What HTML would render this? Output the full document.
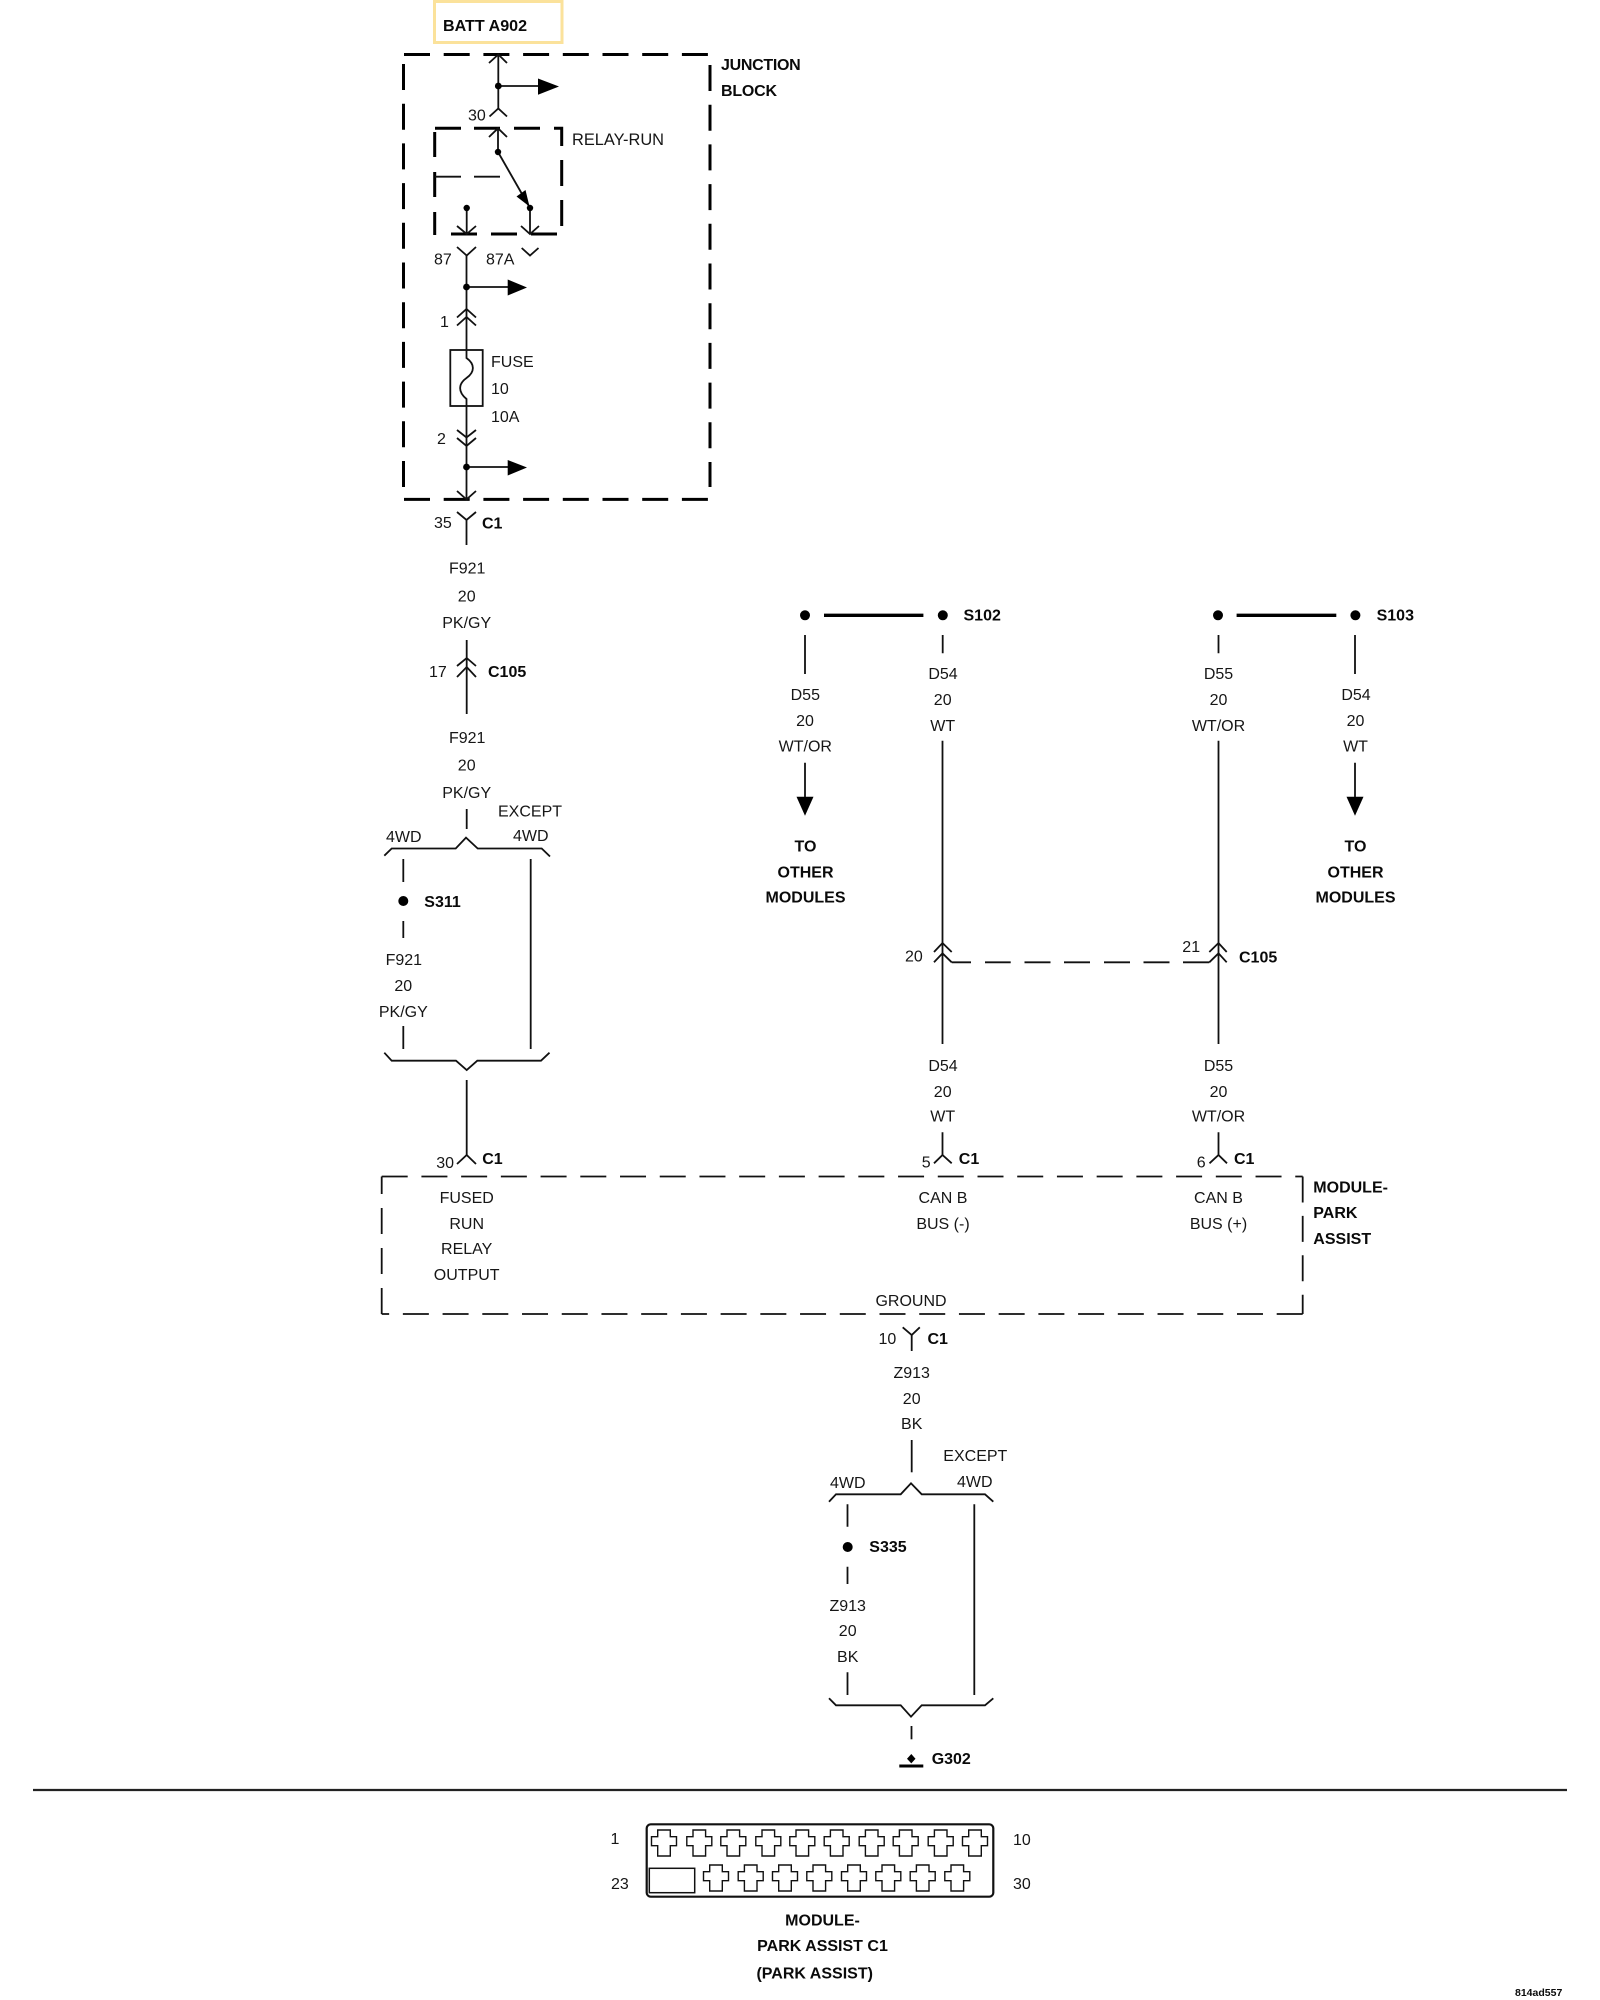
<!DOCTYPE html>
<html><head><meta charset="utf-8"><title>Park Assist Wiring Diagram</title>
<style>
html,body{margin:0;padding:0;background:#fff}
svg{display:block}
text{font-family:"Liberation Sans",Arial,sans-serif;font-size:16px;fill:#161616}
.b{font-weight:bold;fill:#0a0a0a}
.m{text-anchor:middle}
.w{fill:none;stroke:#111;stroke-width:1.8}
.h{fill:none;stroke:#000;stroke-width:3}
.d{fill:none;stroke:#111;stroke-width:1.8;stroke-dasharray:26 13.72}
.k{fill:#000;stroke:none}
</style></head><body>
<svg xmlns="http://www.w3.org/2000/svg" width="1600" height="2000" viewBox="0 0 1600 2000">
<rect width="1600" height="2000" fill="#fff"/>
<defs><path id="x" d="M-6.3 0H6.3V6.7H12.5V15.7H6.3V26H-6.3V15.7H-12.5V6.7H-6.3Z" fill="none" stroke="#111" stroke-width="1.4"/></defs>

<rect x="434.5" y="1.5" width="127.5" height="41" fill="none" stroke="#fbe29b" stroke-width="3"/>
<text class="b" x="443" y="31" style="font-size:16.1px">BATT A902</text>

<!-- junction block -->
<g class="h" style="stroke-dasharray:26 13.7">
<path d="M404 54.5H708.5"/><path d="M404 499.4H708.5"/><path d="M403.5 64V487"/><path d="M710 65V487"/>
</g>
<text class="b" x="721" y="70" style="letter-spacing:-.3px">JUNCTION</text>
<text class="b" x="721" y="96" style="letter-spacing:-.2px">BLOCK</text>

<g class="w">
<path d="M498.3 54.5V108.5"/><path d="M489 63L498.3 54.5L507 63"/>
<path d="M498.3 86H540"/><path d="M489.5 116.5L498.3 108.5L507 116.5"/>
</g>
<circle class="k" cx="498.3" cy="86" r="3.4"/>
<path class="k" d="M538 78.5L559 86.5L538 94.7Z"/>
<text x="468" y="120.5">30</text>

<!-- relay -->
<g class="h">
<path d="M435 128.3H461M474 128.3H500M514 128.3H540M554 128.3H561.7V146"/>
<path d="M434.7 132V157M434.7 172V197M434.7 212V235"/>
<path d="M561.7 160V186M561.7 200V226"/>
<path d="M451 234H477M491 234H517M531 234H557"/>
</g>
<text x="572" y="145" style="font-size:16.4px">RELAY-RUN</text>
<g class="w">
<path d="M489 137L498 128.3L507 137"/><path d="M498 128.3V152"/>
<path d="M498 152L530 208"/>
<path d="M435 176.7H461M474 176.7H500"/>
<path d="M466.7 208V234"/><path d="M457 226L466.7 234L476 226"/>
<path d="M530 208V234"/><path d="M521 226L530 234L539 226"/>
<path d="M457 247L466.7 255.5L476 247"/>
<path d="M521.7 248L530 255.5L538.5 248"/>
</g>
<circle class="k" cx="498" cy="152" r="3.2"/>
<circle class="k" cx="530" cy="208" r="3.2"/>
<circle class="k" cx="466.7" cy="208" r="3.2"/>
<path class="k" d="M529.5 206.5L516.5 196.5L525.5 190Z"/>
<text x="434" y="264.5">87</text>
<text x="486" y="264.5">87A</text>

<!-- fuse wire -->
<g class="w">
<path d="M466.5 255.5V350"/>
<path d="M466.5 287H508"/>
<path d="M457 317.5L466.5 309L476 317.5"/><path d="M457 325.5L466.5 317L476 325.5"/>
<rect x="450.3" y="350" width="32.4" height="56"/>
<path d="M466.5 350V358C475 364 475 372 466.5 378C458 384 458 392 466.5 399V406"/>
<path d="M466.5 406V499.4"/>
<path d="M457 430L466.5 437.5L476 430"/><path d="M457 438L466.5 446L476 438"/>
<path d="M466.5 467H508"/>
<path d="M457 491L466.5 499.4L476 491"/>
<path d="M457 512L466.5 520L476 512"/><path d="M466.5 520V545"/>
</g>
<circle class="k" cx="466.5" cy="287" r="3.4"/>
<circle class="k" cx="466.5" cy="467" r="3.4"/>
<path class="k" d="M507.7 279.5L527 287.5L507.7 295.5Z"/>
<path class="k" d="M507.7 460L527 467.5L507.7 475.5Z"/>
<text x="440" y="327">1</text>
<text x="437" y="444">2</text>
<text x="491" y="367">FUSE</text>
<text x="491" y="394">10</text>
<text x="491" y="422">10A</text>
<text x="434" y="528">35</text>
<text class="b" x="482" y="528.5">C1</text>

<g class="m">
<text x="467.2" y="573.5">F921</text>
<text x="466.7" y="601.5">20</text>
<text x="466.7" y="628">PK/GY</text>
<text x="467.2" y="743">F921</text>
<text x="466.7" y="770.6">20</text>
<text x="466.7" y="798">PK/GY</text>
<text x="403.8" y="965">F921</text>
<text x="403.3" y="991">20</text>
<text x="403.3" y="1017">PK/GY</text>
</g>
<g class="w">
<path d="M466.7 640V714"/>
<path d="M457 666L466.7 658L476 666"/><path d="M457 677L466.7 667L476 677"/>
<path d="M466.7 809V829"/>
<path d="M384.3 855.7L391.7 848.5H455.7L466 837.6L477.7 848.5H541.7L550 856.5"/>
<path d="M403.3 859V882M403.3 921V938M403.3 1026V1049"/>
<path d="M530.7 859V1049"/>
<path d="M384.3 1052.7L391.7 1060.7H456L466.7 1070L477.3 1060.7H541L549.5 1052.7"/>
<path d="M466.7 1080V1155"/>
<path d="M457 1164L466.7 1155L476 1164"/>
</g>
<circle class="k" cx="403.3" cy="901" r="5"/>
<text x="429" y="677">17</text>
<text class="b" x="488" y="677">C105</text>
<text x="498" y="816.5">EXCEPT</text>
<text x="513" y="841">4WD</text>
<text x="386" y="842">4WD</text>
<text class="b" x="424.3" y="907">S311</text>
<text x="436.2" y="1168">30</text>
<text class="b" x="482.2" y="1164">C1</text>

<!-- S102 / S103 -->
<g class="k">
<circle cx="805" cy="615.3" r="5"/><circle cx="942.8" cy="615.3" r="5"/>
<circle cx="1218" cy="615.3" r="5"/><circle cx="1355.4" cy="615.3" r="5"/>
<path d="M796.5 796.7H813.5L805 815.7Z"/><path d="M1346.5 796.7H1363.5L1355 815.7Z"/>
</g>
<path class="h" d="M824 615.3H923.4M1236.6 615.3H1336.3" style="stroke-width:3.4"/>
<text class="b" x="963.5" y="620.7">S102</text>
<text class="b" x="1376.6" y="620.7">S103</text>
<g class="w">
<path d="M805 635V674M942.7 635V653.3M1218.5 635V653.3M1355 635V674"/>
<path d="M805 762.7V797M1355 762.7V797"/>
<path d="M942.5 740.7V1044M1218.5 740.7V1044"/>
<path d="M934 952L942.5 943L951.7 952"/><path d="M934 962.3L942.5 953.3L951.7 962.3"/>
<path d="M1209.3 952L1218.5 943L1226.7 952"/><path d="M1209.3 962.3L1218.5 953.3L1226.7 962.3"/>
<path d="M942.5 1132.3V1155M1218.5 1132.3V1155"/>
<path d="M934 1163.3L942.5 1155L951.7 1163.3"/><path d="M1209.5 1163.3L1218.5 1155L1227 1163.3"/>
<path d="M951.7 962.3H971M985 962.3H1010.7M1024.5 962.3H1050.5M1064 962.3H1090M1104 962.3H1130M1143.5 962.3H1169.5M1183 962.3H1209.3"/>
</g>
<g class="m">
<text x="805.3" y="700">D55</text><text x="805" y="726">20</text><text x="805.3" y="751.7">WT/OR</text>
<text x="943" y="679">D54</text><text x="942.7" y="705">20</text><text x="942.7" y="731">WT</text>
<text x="1218.5" y="679">D55</text><text x="1218.5" y="705">20</text><text x="1218.5" y="731">WT/OR</text>
<text x="1356" y="700">D54</text><text x="1355.5" y="726">20</text><text x="1355.5" y="751.7">WT</text>
<text class="b" x="805.5" y="851.7">TO</text><text class="b" x="805.5" y="877.7">OTHER</text><text class="b" x="805.5" y="902.7">MODULES</text>
<text class="b" x="1355.5" y="851.7">TO</text><text class="b" x="1355.5" y="877.7">OTHER</text><text class="b" x="1355.5" y="902.7">MODULES</text>
<text x="943" y="1071">D54</text><text x="942.7" y="1097">20</text><text x="942.7" y="1121.7">WT</text>
<text x="1218.5" y="1071">D55</text><text x="1218.5" y="1097">20</text><text x="1218.5" y="1121.7">WT/OR</text>
<text x="943" y="1203">CAN B</text><text x="943" y="1229">BUS (-)</text>
<text x="1218.5" y="1203">CAN B</text><text x="1218.5" y="1229">BUS (+)</text>
<text x="466.7" y="1203">FUSED</text><text x="466.7" y="1229">RUN</text><text x="466.7" y="1254">RELAY</text><text x="466.7" y="1280">OUTPUT</text>
<text x="911" y="1306">GROUND</text>
</g>
<text x="905" y="961.7">20</text>
<text x="1182.3" y="952">21</text>
<text class="b" x="1239" y="962.7">C105</text>
<text x="921.7" y="1167.3">5</text>
<text class="b" x="958.8" y="1164">C1</text>
<text x="1196.7" y="1167.3">6</text>
<text class="b" x="1234" y="1164">C1</text>

<!-- module box -->
<g class="d">
<path d="M381.7 1176.5H1302.7" style="stroke-dasharray:26 13.72"/>
<path d="M1302.7 1176.5V1314" style="stroke-dasharray:26 13.4"/>
<path d="M1302.7 1314H381.7"/>
<path d="M381.7 1314V1176.5" style="stroke-dasharray:26 14"/>
</g>
<text class="b" x="1313.3" y="1192.5">MODULE-</text>
<text class="b" x="1313.3" y="1218">PARK</text>
<text class="b" x="1313.3" y="1244">ASSIST</text>

<!-- ground leg -->
<g class="w">
<path d="M902.7 1327.3L911.7 1335L919.8 1327.3"/><path d="M911.7 1335V1351"/>
<path d="M911.7 1440V1472.3"/>
<path d="M829 1501.7L836 1494.3H900.7L911 1483.3L921.7 1494.3H985L993.3 1501.7"/>
<path d="M847.5 1504.3V1526.7M847.5 1566.7V1584M847.5 1672.3V1695"/>
<path d="M974.3 1504.3V1695"/>
<path d="M829 1698.3L836 1705.3H900.7L911 1716.7L921.7 1705.3H985L993.3 1698.3"/>
<path d="M911.5 1726V1739.3"/>
</g>
<circle class="k" cx="847.7" cy="1547" r="5"/>
<path class="k" d="M911.3 1754L915.5 1758.7L911.3 1763.4L907 1758.7Z"/>
<path class="h" d="M899.3 1766H923.3"/>
<text x="878.5" y="1344">10</text>
<text class="b" x="927.5" y="1344">C1</text>
<g class="m">
<text x="911.7" y="1378">Z913</text><text x="911.7" y="1404">20</text><text x="911.7" y="1429">BK</text>
<text x="847.7" y="1611">Z913</text><text x="847.7" y="1636">20</text><text x="847.7" y="1662">BK</text>
</g>
<text x="943.3" y="1461">EXCEPT</text>
<text x="957" y="1487">4WD</text>
<text x="830" y="1488">4WD</text>
<text class="b" x="869.3" y="1552">S335</text>
<text class="b" x="931.7" y="1764">G302</text>

<!-- divider -->
<path d="M33 1790H1567" stroke="#222" stroke-width="2.2" fill="none"/>

<!-- connector -->
<rect x="646.7" y="1824.3" width="346.6" height="72.4" rx="4" fill="none" stroke="#111" stroke-width="2.2"/>
<use href="#x" x="664" y="1830"/><use href="#x" x="699.3" y="1830"/><use href="#x" x="733.3" y="1830"/><use href="#x" x="768.3" y="1830"/><use href="#x" x="802.3" y="1830"/><use href="#x" x="836.7" y="1830"/><use href="#x" x="871.7" y="1830"/><use href="#x" x="905.7" y="1830"/><use href="#x" x="940.7" y="1830"/><use href="#x" x="975" y="1830"/>
<use href="#x" x="716" y="1865"/><use href="#x" x="750.7" y="1865"/><use href="#x" x="785" y="1865"/><use href="#x" x="819.3" y="1865"/><use href="#x" x="854" y="1865"/><use href="#x" x="888.3" y="1865"/><use href="#x" x="922.7" y="1865"/><use href="#x" x="957.3" y="1865"/>
<rect x="649.3" y="1868.3" width="45.4" height="24.4" fill="none" stroke="#111" stroke-width="1.5"/>
<text x="610.5" y="1844">1</text>
<text x="611" y="1889">23</text>
<text x="1013" y="1845">10</text>
<text x="1013" y="1889">30</text>
<g class="m">
<text class="b" x="822.5" y="1925.7">MODULE-</text>
<text class="b" x="822.5" y="1951">PARK ASSIST C1</text>
<text class="b" x="814.7" y="1978.5">(PARK ASSIST)</text>
</g>
<text class="b" x="1515" y="1996" style="font-size:10.5px">814ad557</text>
</svg>
</body></html>
